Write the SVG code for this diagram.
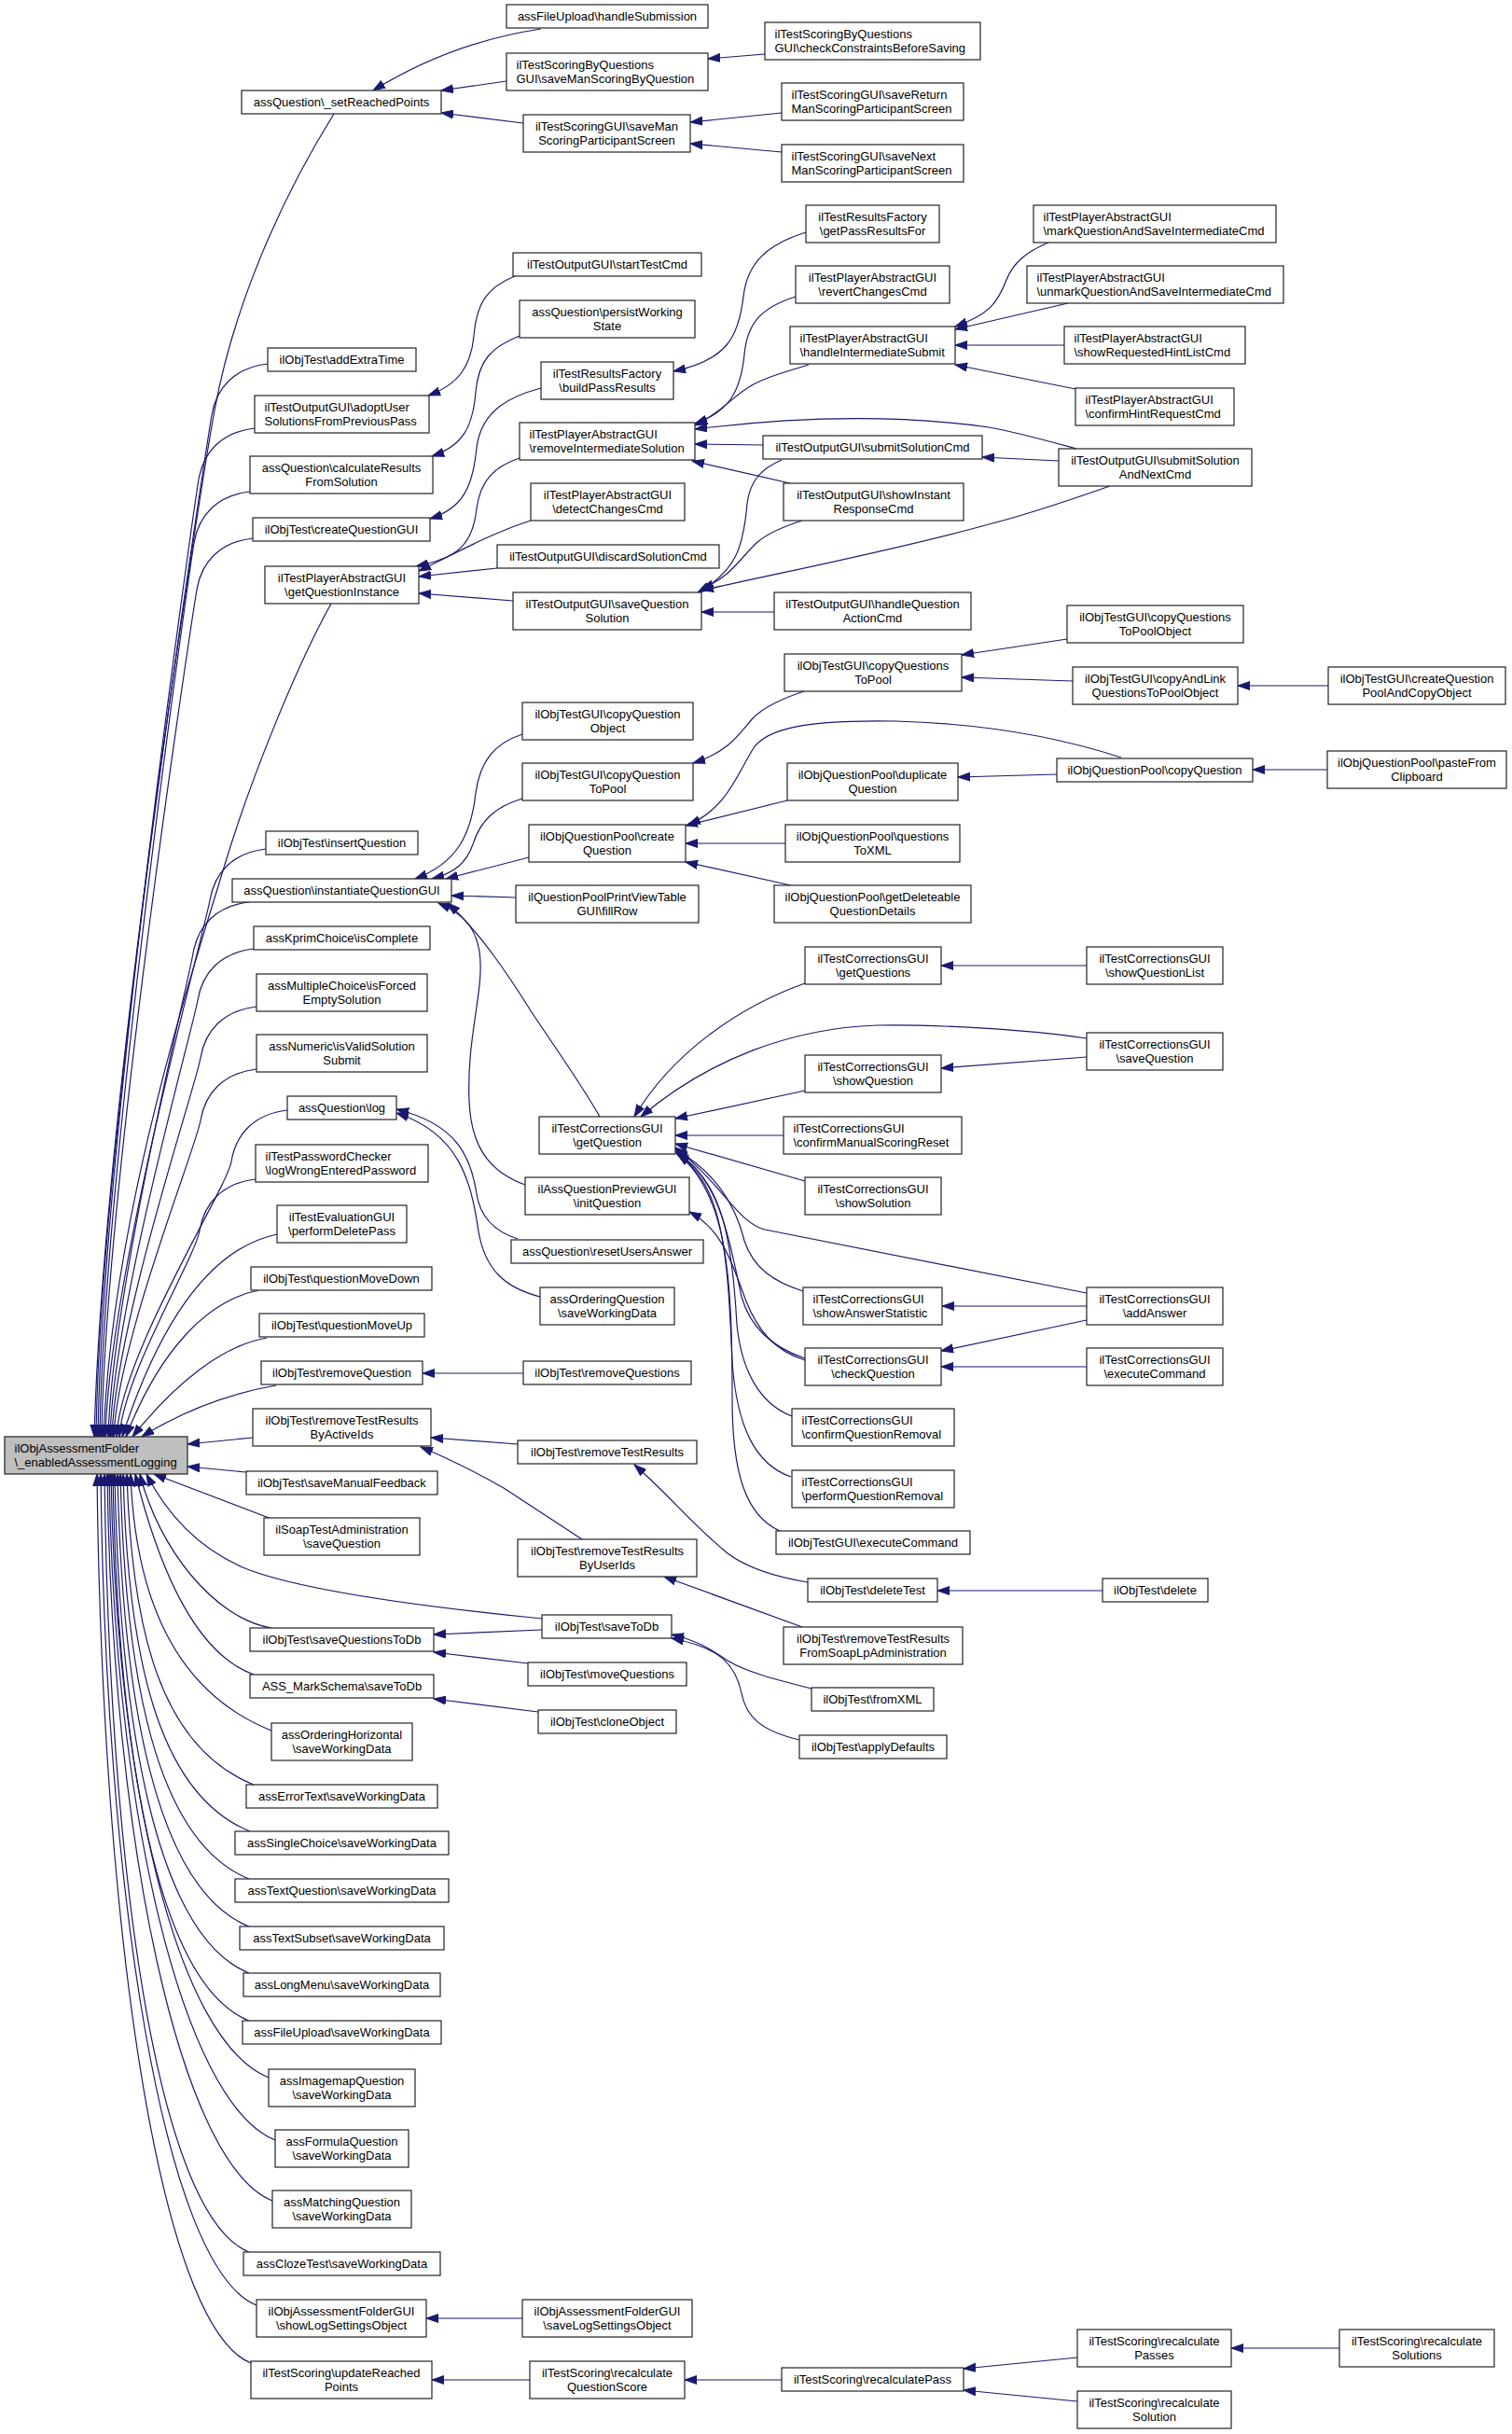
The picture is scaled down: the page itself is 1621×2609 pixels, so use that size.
<svg xmlns="http://www.w3.org/2000/svg" width="1621" height="2609" viewBox="0 0 1621 2609">
<style>
rect{fill:#fff;stroke:#222;stroke-width:1.2}
#root rect{fill:#bfbfbf}
text{font-family:"Liberation Sans",Arial,Helvetica,sans-serif;font-size:13px;fill:#000}
.c{text-anchor:middle}
#edges path{fill:none;stroke:#191970;stroke-width:1.2;marker-end:url(#a)}
</style>
<defs>
<marker id="a" markerWidth="14" markerHeight="10" refX="13" refY="5" orient="auto" markerUnits="userSpaceOnUse"><path d="M0,0.5 L13,5 L0,9.5 z" fill="#191970" stroke="#191970" stroke-width="1"/></marker>
</defs>
<rect x="0" y="0" width="1621" height="2609" style="fill:#fff;stroke:none"/>
<g id="edges">
<path d="M580,31 C520,40 460,60 400,97"/>
<path d="M543,87 L473,97"/>
<path d="M561,132 L473,121"/>
<path d="M820,58 L759,63"/>
<path d="M838,121 L740,131"/>
<path d="M838,163 L740,154"/>
<path d="M552,296 C522,308 511,325 508,360 C505,392 492,412 459,424"/>
<path d="M557,360 C527,372 513,386 510,420 C507,458 496,478 463,489"/>
<path d="M580,416 C550,424 516,438 511,480 C507,522 496,545 461,556"/>
<path d="M864,249 C822,262 801,282 797,318 C792,360 780,386 722,398"/>
<path d="M557,491 C530,500 515,515 511,545 C507,583 492,598 446,607"/>
<path d="M569,558 C525,572 485,595 449,612"/>
<path d="M533,609 L449,618"/>
<path d="M550,644 L449,636"/>
<path d="M853,318 C815,330 801,347 798,380 C794,420 781,442 745,454"/>
<path d="M867,391 C840,399 820,405 806,413 C786,424 774,442 745,456"/>
<path d="M1154,481 C1110,469 1085,462 1060,458 C960,444 850,447 745,460"/>
<path d="M818,477 L745,476"/>
<path d="M847,518 L742,494"/>
<path d="M1124,260 C1100,270 1086,282 1079,300 C1069,326 1060,337 1024,350"/>
<path d="M1145,325 L1024,353"/>
<path d="M1141,370 L1024,370"/>
<path d="M1153,417 L1024,391"/>
<path d="M1135,494 L1053,490"/>
<path d="M1190,521 C1150,535 1100,552 1060,562 C960,590 830,615 752,633"/>
<path d="M838,493 C815,503 804,516 801,540 C797,585 790,612 748,635"/>
<path d="M860,558 C835,566 821,573 811,582 C792,600 782,620 752,631"/>
<path d="M830,656 L752,656"/>
<path d="M1144,685 L1031,702"/>
<path d="M1150,730 L1031,726"/>
<path d="M1424,735 L1327,735"/>
<path d="M862,741 C835,750 816,760 806,771 C790,790 780,806 743,818"/>
<path d="M560,787 C530,797 515,815 510,850 C505,895 490,925 445,942"/>
<path d="M560,856 C530,865 515,880 507,905 C500,925 487,936 463,942"/>
<path d="M567,919 L478,942"/>
<path d="M553,962 L484,960"/>
<path d="M643,1197 C625,1165 600,1130 570,1085 C545,1045 515,1000 480,968"/>
<path d="M563,1270 C530,1258 505,1235 503,1180 C500,1110 520,1060 514,1020 C510,995 498,980 470,968"/>
<path d="M1202,812 C1150,795 1070,776 960,773 C850,771 822,785 809,800 C790,830 780,866 738,884"/>
<path d="M844,858 L735,885"/>
<path d="M1133,830 L1027,833"/>
<path d="M1423,825 L1343,825"/>
<path d="M842,904 L735,904"/>
<path d="M848,949 L735,924"/>
<path d="M1165,1035 L1009,1035"/>
<path d="M863,1054 C790,1080 720,1130 680,1197"/>
<path d="M1165,1113 C1100,1103 1000,1098 940,1099 C850,1102 760,1135 687,1197"/>
<path d="M1165,1133 L1009,1145"/>
<path d="M863,1169 L724,1199"/>
<path d="M840,1217 L724,1217"/>
<path d="M863,1266 L724,1226"/>
<path d="M861,1384 C830,1374 808,1360 798,1330 C788,1290 765,1255 724,1232"/>
<path d="M863,1456 C830,1445 805,1425 795,1390 C780,1320 770,1262 724,1234"/>
<path d="M849,1518 C815,1505 795,1470 790,1420 C785,1330 775,1265 725,1236"/>
<path d="M848,1583 C810,1570 790,1530 785,1460 C780,1340 775,1270 726,1237"/>
<path d="M836,1641 C800,1625 785,1580 785,1500 C785,1370 780,1280 727,1237"/>
<path d="M1165,1386 L820,1318 C790,1310 775,1270 724,1230"/>
<path d="M863,1458 C830,1448 812,1425 800,1395 C785,1355 775,1318 739,1299"/>
<path d="M1165,1400 L1010,1400"/>
<path d="M1165,1415 L1009,1448"/>
<path d="M1165,1465 L1009,1465"/>
<path d="M555,1328 C530,1320 515,1305 511,1280 C505,1240 490,1205 425,1189"/>
<path d="M579,1390 C540,1380 520,1360 513,1320 C505,1265 492,1215 425,1193"/>
<path d="M561,1472 L453,1472"/>
<path d="M555,1548 L462,1541"/>
<path d="M624,1650 L540,1595 C510,1578 480,1563 451,1551"/>
<path d="M866,1696 C830,1690 800,1680 780,1665 C740,1632 720,1605 680,1570"/>
<path d="M1182,1705 L1005,1705"/>
<path d="M860,1744 L712,1690"/>
<path d="M870,1810 C830,1800 800,1792 780,1780 C760,1766 745,1758 720,1752"/>
<path d="M857,1865 C815,1855 800,1840 795,1815 C788,1782 770,1766 720,1756"/>
<path d="M581,1747 L465,1752"/>
<path d="M581,1735 C450,1722 320,1705 260,1680 C215,1660 180,1625 157,1580"/>
<path d="M566,1783 L465,1771"/>
<path d="M577,1835 L465,1821"/>
<path d="M560,2485 L457,2485"/>
<path d="M568,2551 L463,2551"/>
<path d="M838,2551 L734,2551"/>
<path d="M1155,2527 L1033,2539"/>
<path d="M1155,2574 L1033,2562"/>
<path d="M1436,2517 L1320,2517"/>
<path d="M358,122 C300,215 250,330 230,440 S110,1200 101,1540"/>
<path d="M287,390 C252,394 232,415 227,445 S107,1211 103,1540"/>
<path d="M273,459 C238,463 218,484 213,514 S109,1232 105,1540"/>
<path d="M268,527 C233,531 213,552 208,582 S111,1253 107,1540"/>
<path d="M271,577 C236,581 216,602 211,632 S113,1268 109,1540"/>
<path d="M355,647 C320,710 270,830 240,930 S120,1300 111,1540"/>
<path d="M285,910 C250,914 230,935 225,965 S117,1368 113,1540"/>
<path d="M267,967 C232,971 212,992 207,1022 S120,1385 116,1540"/>
<path d="M272,1017 C237,1021 217,1042 212,1072 S122,1400 118,1540"/>
<path d="M275,1079 C240,1083 220,1104 215,1134 S124,1418 120,1540"/>
<path d="M275,1146 C240,1150 220,1171 215,1201 S126,1438 122,1540"/>
<path d="M308,1190 C273,1194 253,1215 248,1245 S129,1452 125,1540"/>
<path d="M274,1264 C239,1268 219,1289 214,1319 S132,1474 128,1540"/>
<path d="M297,1323 C240,1335 180,1390 131,1540"/>
<path d="M277,1383 C220,1395 170,1450 135,1540"/>
<path d="M286,1434 C240,1442 190,1480 142,1540"/>
<path d="M296,1485 C250,1493 200,1510 152,1540"/>
<path d="M271,1541 L201,1548"/>
<path d="M264,1578 L201,1572"/>
<path d="M291,1628 L165,1580"/>
<path d="M291,1745 C230,1735 170,1660 150,1580"/>
<path d="M272,1795 C225,1778 180,1720 145,1580"/>
<path d="M291,1855 C191,1815 145,1718 140,1580"/>
<path d="M272,1913 C172,1873 141,1747 136,1580"/>
<path d="M268,1963 C168,1923 137,1772 132,1580"/>
<path d="M267,2014 C167,1974 134,1797 129,1580"/>
<path d="M267,2065 C167,2025 131,1823 126,1580"/>
<path d="M267,2115 C167,2075 128,1848 123,1580"/>
<path d="M267,2166 C167,2126 126,1873 121,1580"/>
<path d="M288,2227 C188,2187 124,1904 119,1580"/>
<path d="M295,2294 C195,2254 122,1937 117,1580"/>
<path d="M292,2359 C192,2319 120,1970 115,1580"/>
<path d="M267,2414 C167,2374 117,1997 112,1580"/>
<path d="M275,2471 C175,2431 113,2026 108,1580"/>
<path d="M269,2533 C169,2493 109,2057 104,1580"/>
</g>
<g id="root"><rect x="5" y="1540" width="196" height="40"/><text x="15.5" y="1557">ilObjAssessmentFolder</text><text x="15.5" y="1572">\_enabledAssessmentLogging</text></g>
<g id="n1"><rect x="259" y="97" width="214" height="25"/><text class="c" x="366" y="114">assQuestion\_setReachedPoints</text></g>
<g id="n2"><rect x="287" y="373" width="159" height="25"/><text class="c" x="366.5" y="390">ilObjTest\addExtraTime</text></g>
<g id="n3"><rect x="273" y="424" width="187" height="40"/><text x="283.5" y="441">ilTestOutputGUI\adoptUser</text><text x="283.5" y="456">SolutionsFromPreviousPass</text></g>
<g id="n4"><rect x="268" y="489" width="196" height="40"/><text class="c" x="366" y="506">assQuestion\calculateResults</text><text class="c" x="366" y="521">FromSolution</text></g>
<g id="n5"><rect x="271" y="555" width="190" height="25"/><text class="c" x="366" y="572">ilObjTest\createQuestionGUI</text></g>
<g id="n6"><rect x="284" y="607" width="165" height="40"/><text class="c" x="366.5" y="624">ilTestPlayerAbstractGUI</text><text class="c" x="366.5" y="639">\getQuestionInstance</text></g>
<g id="n7"><rect x="285" y="891" width="163" height="25"/><text class="c" x="366.5" y="908">ilObjTest\insertQuestion</text></g>
<g id="n8"><rect x="249" y="942" width="235" height="25"/><text class="c" x="366.5" y="959">assQuestion\instantiateQuestionGUI</text></g>
<g id="n9"><rect x="272" y="993" width="189" height="25"/><text class="c" x="366.5" y="1010">assKprimChoice\isComplete</text></g>
<g id="n10"><rect x="275" y="1044" width="183" height="40"/><text class="c" x="366.5" y="1061">assMultipleChoice\isForced</text><text class="c" x="366.5" y="1076">EmptySolution</text></g>
<g id="n11"><rect x="275" y="1109" width="183" height="40"/><text class="c" x="366.5" y="1126">assNumeric\isValidSolution</text><text class="c" x="366.5" y="1141">Submit</text></g>
<g id="n12"><rect x="308" y="1175" width="117" height="25"/><text class="c" x="366.5" y="1192">assQuestion\log</text></g>
<g id="n13"><rect x="274" y="1227" width="185" height="40"/><text x="284.5" y="1244">ilTestPasswordChecker</text><text x="284.5" y="1259">\logWrongEnteredPassword</text></g>
<g id="n14"><rect x="297" y="1292" width="139" height="40"/><text class="c" x="366.5" y="1309">ilTestEvaluationGUI</text><text class="c" x="366.5" y="1324">\performDeletePass</text></g>
<g id="n15"><rect x="269" y="1358" width="194" height="25"/><text class="c" x="366" y="1375">ilObjTest\questionMoveDown</text></g>
<g id="n16"><rect x="278" y="1408" width="177" height="25"/><text class="c" x="366.5" y="1425">ilObjTest\questionMoveUp</text></g>
<g id="n17"><rect x="280" y="1459" width="173" height="25"/><text class="c" x="366.5" y="1476">ilObjTest\removeQuestion</text></g>
<g id="n18"><rect x="271" y="1510" width="191" height="40"/><text class="c" x="366.5" y="1527">ilObjTest\removeTestResults</text><text class="c" x="366.5" y="1542">ByActiveIds</text></g>
<g id="n19"><rect x="264" y="1577" width="205" height="25"/><text class="c" x="366.5" y="1594">ilObjTest\saveManualFeedback</text></g>
<g id="n20"><rect x="283" y="1627" width="167" height="40"/><text class="c" x="366.5" y="1644">ilSoapTestAdministration</text><text class="c" x="366.5" y="1659">\saveQuestion</text></g>
<g id="n21"><rect x="268" y="1745" width="197" height="25"/><text class="c" x="366.5" y="1762">ilObjTest\saveQuestionsToDb</text></g>
<g id="n22"><rect x="268" y="1795" width="197" height="25"/><text class="c" x="366.5" y="1812">ASS_MarkSchema\saveToDb</text></g>
<g id="n23"><rect x="291" y="1847" width="151" height="40"/><text class="c" x="366.5" y="1864">assOrderingHorizontal</text><text class="c" x="366.5" y="1879">\saveWorkingData</text></g>
<g id="n24"><rect x="264" y="1913" width="205" height="25"/><text class="c" x="366.5" y="1930">assErrorText\saveWorkingData</text></g>
<g id="n25"><rect x="252" y="1963" width="229" height="25"/><text class="c" x="366.5" y="1980">assSingleChoice\saveWorkingData</text></g>
<g id="n26"><rect x="252" y="2014" width="229" height="25"/><text class="c" x="366.5" y="2031">assTextQuestion\saveWorkingData</text></g>
<g id="n27"><rect x="257" y="2065" width="219" height="25"/><text class="c" x="366.5" y="2082">assTextSubset\saveWorkingData</text></g>
<g id="n28"><rect x="261" y="2115" width="211" height="25"/><text class="c" x="366.5" y="2132">assLongMenu\saveWorkingData</text></g>
<g id="n29"><rect x="260" y="2166" width="213" height="25"/><text class="c" x="366.5" y="2183">assFileUpload\saveWorkingData</text></g>
<g id="n30"><rect x="288" y="2218" width="157" height="40"/><text class="c" x="366.5" y="2235">assImagemapQuestion</text><text class="c" x="366.5" y="2250">\saveWorkingData</text></g>
<g id="n31"><rect x="295" y="2283" width="143" height="40"/><text class="c" x="366.5" y="2300">assFormulaQuestion</text><text class="c" x="366.5" y="2315">\saveWorkingData</text></g>
<g id="n32"><rect x="292" y="2348" width="149" height="40"/><text class="c" x="366.5" y="2365">assMatchingQuestion</text><text class="c" x="366.5" y="2380">\saveWorkingData</text></g>
<g id="n33"><rect x="261" y="2414" width="211" height="25"/><text class="c" x="366.5" y="2431">assClozeTest\saveWorkingData</text></g>
<g id="n34"><rect x="275" y="2465" width="182" height="40"/><text class="c" x="366" y="2482">ilObjAssessmentFolderGUI</text><text class="c" x="366" y="2497">\showLogSettingsObject</text></g>
<g id="n35"><rect x="269" y="2531" width="194" height="40"/><text class="c" x="366" y="2548">ilTestScoring\updateReached</text><text class="c" x="366" y="2563">Points</text></g>
<g id="c1"><rect x="543" y="5" width="216" height="25"/><text class="c" x="651" y="22">assFileUpload\handleSubmission</text></g>
<g id="c2"><rect x="543" y="57" width="216" height="40"/><text x="553.5" y="74">ilTestScoringByQuestions</text><text x="553.5" y="89">GUI\saveManScoringByQuestion</text></g>
<g id="c3"><rect x="561" y="123" width="179" height="40"/><text class="c" x="650.5" y="140">ilTestScoringGUI\saveMan</text><text class="c" x="650.5" y="155">ScoringParticipantScreen</text></g>
<g id="c4"><rect x="550" y="271" width="202" height="25"/><text class="c" x="651" y="288">ilTestOutputGUI\startTestCmd</text></g>
<g id="c5"><rect x="557" y="322" width="188" height="40"/><text class="c" x="651" y="339">assQuestion\persistWorking</text><text class="c" x="651" y="354">State</text></g>
<g id="c6"><rect x="580" y="388" width="142" height="40"/><text class="c" x="651" y="405">ilTestResultsFactory</text><text class="c" x="651" y="420">\buildPassResults</text></g>
<g id="c7"><rect x="557" y="453" width="188" height="40"/><text x="567.5" y="470">ilTestPlayerAbstractGUI</text><text x="567.5" y="485">\removeIntermediateSolution</text></g>
<g id="c8"><rect x="569" y="518" width="165" height="40"/><text class="c" x="651.5" y="535">ilTestPlayerAbstractGUI</text><text class="c" x="651.5" y="550">\detectChangesCmd</text></g>
<g id="c9"><rect x="533" y="584" width="238" height="25"/><text class="c" x="652" y="601">ilTestOutputGUI\discardSolutionCmd</text></g>
<g id="c10"><rect x="550" y="635" width="202" height="40"/><text class="c" x="651" y="652">ilTestOutputGUI\saveQuestion</text><text class="c" x="651" y="667">Solution</text></g>
<g id="c11"><rect x="560" y="753" width="183" height="40"/><text class="c" x="651.5" y="770">ilObjTestGUI\copyQuestion</text><text class="c" x="651.5" y="785">Object</text></g>
<g id="c12"><rect x="560" y="818" width="183" height="40"/><text class="c" x="651.5" y="835">ilObjTestGUI\copyQuestion</text><text class="c" x="651.5" y="850">ToPool</text></g>
<g id="c13"><rect x="567" y="884" width="168" height="40"/><text class="c" x="651" y="901">ilObjQuestionPool\create</text><text class="c" x="651" y="916">Question</text></g>
<g id="c14"><rect x="553" y="949" width="196" height="40"/><text class="c" x="651" y="966">ilQuestionPoolPrintViewTable</text><text class="c" x="651" y="981">GUI\fillRow</text></g>
<g id="c15"><rect x="578" y="1197" width="146" height="40"/><text class="c" x="651" y="1214">ilTestCorrectionsGUI</text><text class="c" x="651" y="1229">\getQuestion</text></g>
<g id="c16"><rect x="563" y="1262" width="176" height="40"/><text class="c" x="651" y="1279">ilAssQuestionPreviewGUI</text><text class="c" x="651" y="1294">\initQuestion</text></g>
<g id="c17"><rect x="548" y="1329" width="206" height="25"/><text class="c" x="651" y="1346">assQuestion\resetUsersAnswer</text></g>
<g id="c18"><rect x="579" y="1380" width="144" height="40"/><text class="c" x="651" y="1397">assOrderingQuestion</text><text class="c" x="651" y="1412">\saveWorkingData</text></g>
<g id="c19"><rect x="561" y="1459" width="180" height="25"/><text class="c" x="651" y="1476">ilObjTest\removeQuestions</text></g>
<g id="c20"><rect x="555" y="1544" width="192" height="25"/><text class="c" x="651" y="1561">ilObjTest\removeTestResults</text></g>
<g id="c21"><rect x="555" y="1650" width="192" height="40"/><text class="c" x="651" y="1667">ilObjTest\removeTestResults</text><text class="c" x="651" y="1682">ByUserIds</text></g>
<g id="c22"><rect x="581" y="1731" width="139" height="25"/><text class="c" x="650.5" y="1748">ilObjTest\saveToDb</text></g>
<g id="c23"><rect x="566" y="1782" width="170" height="25"/><text class="c" x="651" y="1799">ilObjTest\moveQuestions</text></g>
<g id="c24"><rect x="577" y="1833" width="148" height="25"/><text class="c" x="651" y="1850">ilObjTest\cloneObject</text></g>
<g id="c25"><rect x="560" y="2465" width="182" height="40"/><text class="c" x="651" y="2482">ilObjAssessmentFolderGUI</text><text class="c" x="651" y="2497">\saveLogSettingsObject</text></g>
<g id="c26"><rect x="568" y="2531" width="166" height="40"/><text class="c" x="651" y="2548">ilTestScoring\recalculate</text><text class="c" x="651" y="2563">QuestionScore</text></g>
<g id="d1"><rect x="820" y="24" width="231" height="40"/><text x="830.5" y="41">ilTestScoringByQuestions</text><text x="830.5" y="56">GUI\checkConstraintsBeforeSaving</text></g>
<g id="d2"><rect x="838" y="89" width="195" height="40"/><text x="848.5" y="106">ilTestScoringGUI\saveReturn</text><text x="848.5" y="121">ManScoringParticipantScreen</text></g>
<g id="d3"><rect x="838" y="155" width="195" height="40"/><text x="848.5" y="172">ilTestScoringGUI\saveNext</text><text x="848.5" y="187">ManScoringParticipantScreen</text></g>
<g id="d4"><rect x="864" y="220" width="143" height="40"/><text class="c" x="935.5" y="237">ilTestResultsFactory</text><text class="c" x="935.5" y="252">\getPassResultsFor</text></g>
<g id="d5"><rect x="853" y="285" width="165" height="40"/><text class="c" x="935.5" y="302">ilTestPlayerAbstractGUI</text><text class="c" x="935.5" y="317">\revertChangesCmd</text></g>
<g id="d6"><rect x="847" y="350" width="177" height="40"/><text x="857.5" y="367">ilTestPlayerAbstractGUI</text><text x="857.5" y="382">\handleIntermediateSubmit</text></g>
<g id="d7"><rect x="818" y="467" width="235" height="25"/><text class="c" x="935.5" y="484">ilTestOutputGUI\submitSolutionCmd</text></g>
<g id="d8"><rect x="840" y="518" width="193" height="40"/><text class="c" x="936.5" y="535">ilTestOutputGUI\showInstant</text><text class="c" x="936.5" y="550">ResponseCmd</text></g>
<g id="d9"><rect x="830" y="635" width="211" height="40"/><text class="c" x="935.5" y="652">ilTestOutputGUI\handleQuestion</text><text class="c" x="935.5" y="667">ActionCmd</text></g>
<g id="d10"><rect x="841" y="701" width="190" height="40"/><text class="c" x="936" y="718">ilObjTestGUI\copyQuestions</text><text class="c" x="936" y="733">ToPool</text></g>
<g id="d11"><rect x="844" y="818" width="183" height="40"/><text class="c" x="935.5" y="835">ilObjQuestionPool\duplicate</text><text class="c" x="935.5" y="850">Question</text></g>
<g id="d12"><rect x="842" y="884" width="187" height="40"/><text class="c" x="935.5" y="901">ilObjQuestionPool\questions</text><text class="c" x="935.5" y="916">ToXML</text></g>
<g id="d13"><rect x="830" y="949" width="211" height="40"/><text class="c" x="935.5" y="966">ilObjQuestionPool\getDeleteable</text><text class="c" x="935.5" y="981">QuestionDetails</text></g>
<g id="d14"><rect x="863" y="1015" width="146" height="40"/><text class="c" x="936" y="1032">ilTestCorrectionsGUI</text><text class="c" x="936" y="1047">\getQuestions</text></g>
<g id="d15"><rect x="863" y="1131" width="146" height="40"/><text class="c" x="936" y="1148">ilTestCorrectionsGUI</text><text class="c" x="936" y="1163">\showQuestion</text></g>
<g id="d16"><rect x="840" y="1197" width="191" height="40"/><text x="850.5" y="1214">ilTestCorrectionsGUI</text><text x="850.5" y="1229">\confirmManualScoringReset</text></g>
<g id="d17"><rect x="863" y="1262" width="146" height="40"/><text class="c" x="936" y="1279">ilTestCorrectionsGUI</text><text class="c" x="936" y="1294">\showSolution</text></g>
<g id="d18"><rect x="861" y="1380" width="149" height="40"/><text x="871.5" y="1397">ilTestCorrectionsGUI</text><text x="871.5" y="1412">\showAnswerStatistic</text></g>
<g id="d19"><rect x="863" y="1445" width="146" height="40"/><text class="c" x="936" y="1462">ilTestCorrectionsGUI</text><text class="c" x="936" y="1477">\checkQuestion</text></g>
<g id="d20"><rect x="849" y="1510" width="174" height="40"/><text x="859.5" y="1527">ilTestCorrectionsGUI</text><text x="859.5" y="1542">\confirmQuestionRemoval</text></g>
<g id="d21"><rect x="849" y="1576" width="174" height="40"/><text x="859.5" y="1593">ilTestCorrectionsGUI</text><text x="859.5" y="1608">\performQuestionRemoval</text></g>
<g id="d22"><rect x="832" y="1641" width="208" height="25"/><text class="c" x="936" y="1658">ilObjTestGUI\executeCommand</text></g>
<g id="d23"><rect x="866" y="1692" width="139" height="25"/><text class="c" x="935.5" y="1709">ilObjTest\deleteTest</text></g>
<g id="d24"><rect x="840" y="1744" width="192" height="40"/><text class="c" x="936" y="1761">ilObjTest\removeTestResults</text><text class="c" x="936" y="1776">FromSoapLpAdministration</text></g>
<g id="d25"><rect x="870" y="1809" width="131" height="25"/><text class="c" x="935.5" y="1826">ilObjTest\fromXML</text></g>
<g id="d26"><rect x="857" y="1860" width="158" height="25"/><text class="c" x="936" y="1877">ilObjTest\applyDefaults</text></g>
<g id="d27"><rect x="838" y="2538" width="195" height="25"/><text class="c" x="935.5" y="2555">ilTestScoring\recalculatePass</text></g>
<g id="e1"><rect x="1108" y="220" width="260" height="40"/><text x="1118.5" y="237">ilTestPlayerAbstractGUI</text><text x="1118.5" y="252">\markQuestionAndSaveIntermediateCmd</text></g>
<g id="e2"><rect x="1101" y="285" width="275" height="40"/><text x="1111.5" y="302">ilTestPlayerAbstractGUI</text><text x="1111.5" y="317">\unmarkQuestionAndSaveIntermediateCmd</text></g>
<g id="e3"><rect x="1141" y="350" width="194" height="40"/><text x="1151.5" y="367">ilTestPlayerAbstractGUI</text><text x="1151.5" y="382">\showRequestedHintListCmd</text></g>
<g id="e4"><rect x="1153" y="416" width="170" height="40"/><text x="1163.5" y="433">ilTestPlayerAbstractGUI</text><text x="1163.5" y="448">\confirmHintRequestCmd</text></g>
<g id="e5"><rect x="1135" y="481" width="207" height="40"/><text class="c" x="1238.5" y="498">ilTestOutputGUI\submitSolution</text><text class="c" x="1238.5" y="513">AndNextCmd</text></g>
<g id="e6"><rect x="1144" y="649" width="189" height="40"/><text class="c" x="1238.5" y="666">ilObjTestGUI\copyQuestions</text><text class="c" x="1238.5" y="681">ToPoolObject</text></g>
<g id="e7"><rect x="1150" y="715" width="177" height="40"/><text class="c" x="1238.5" y="732">ilObjTestGUI\copyAndLink</text><text class="c" x="1238.5" y="747">QuestionsToPoolObject</text></g>
<g id="e8"><rect x="1133" y="813" width="210" height="25"/><text class="c" x="1238" y="830">ilObjQuestionPool\copyQuestion</text></g>
<g id="e9"><rect x="1165" y="1015" width="146" height="40"/><text class="c" x="1238" y="1032">ilTestCorrectionsGUI</text><text class="c" x="1238" y="1047">\showQuestionList</text></g>
<g id="e10"><rect x="1165" y="1107" width="146" height="40"/><text class="c" x="1238" y="1124">ilTestCorrectionsGUI</text><text class="c" x="1238" y="1139">\saveQuestion</text></g>
<g id="e11"><rect x="1165" y="1380" width="146" height="40"/><text class="c" x="1238" y="1397">ilTestCorrectionsGUI</text><text class="c" x="1238" y="1412">\addAnswer</text></g>
<g id="e12"><rect x="1165" y="1445" width="146" height="40"/><text class="c" x="1238" y="1462">ilTestCorrectionsGUI</text><text class="c" x="1238" y="1477">\executeCommand</text></g>
<g id="e13"><rect x="1182" y="1692" width="113" height="25"/><text class="c" x="1238.5" y="1709">ilObjTest\delete</text></g>
<g id="e14"><rect x="1155" y="2497" width="165" height="40"/><text class="c" x="1237.5" y="2514">ilTestScoring\recalculate</text><text class="c" x="1237.5" y="2529">Passes</text></g>
<g id="e15"><rect x="1155" y="2563" width="165" height="40"/><text class="c" x="1237.5" y="2580">ilTestScoring\recalculate</text><text class="c" x="1237.5" y="2595">Solution</text></g>
<g id="f1"><rect x="1424" y="715" width="190" height="40"/><text class="c" x="1519" y="732">ilObjTestGUI\createQuestion</text><text class="c" x="1519" y="747">PoolAndCopyObject</text></g>
<g id="f2"><rect x="1423" y="805" width="192" height="40"/><text class="c" x="1519" y="822">ilObjQuestionPool\pasteFrom</text><text class="c" x="1519" y="837">Clipboard</text></g>
<g id="f3"><rect x="1436" y="2497" width="166" height="40"/><text class="c" x="1519" y="2514">ilTestScoring\recalculate</text><text class="c" x="1519" y="2529">Solutions</text></g>
</svg>
